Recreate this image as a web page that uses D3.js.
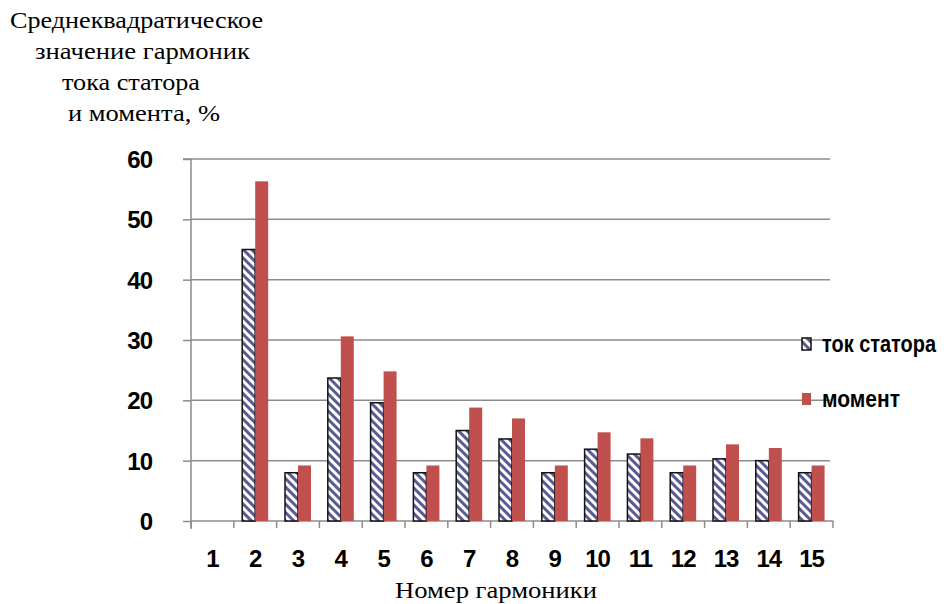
<!DOCTYPE html>
<html>
<head>
<meta charset="utf-8">
<script src="https://cdn.jsdelivr.net/npm/d3@7"></script>
<style>
  html, body { margin: 0; padding: 0; background: #fff; }
  svg { display: block; }
</style>
</head>
<body>
<svg id="chart" width="946" height="604"></svg>
<script>
// Harmonic numbers and RMS values (%) for stator current and torque
const harmonics = ["1", "2", "3", "4", "5", "6", "7", "8", "9", "10", "11", "12", "13", "14", "15"];
const statorCurrent = [0, 45.0, 8.0, 23.7, 19.6, 8.0, 15.0, 13.6, 8.0, 11.9, 11.1, 8.0, 10.3, 10.0, 8.0];
const torque = [0, 56.3, 9.2, 30.6, 24.8, 9.2, 18.8, 17.0, 9.2, 14.7, 13.7, 9.2, 12.7, 12.1, 9.2];
const yTicks = [0, 10, 20, 30, 40, 50, 60];
const seriesNames = ["ток статора", "момент"];
const yTitleLines = ["Среднеквадратическое", "значение гармоник", "тока статора", "и момента, %"];
const xTitle = "Номер гармоники";

const svg = d3.select("#chart");
const plot = { left: 191, right: 833, top: 159, bottom: 521 };

const x = d3.scaleBand().domain(harmonics).range([plot.left, plot.right]).padding(0);
const y = d3.scaleLinear().domain([0, 60]).range([plot.bottom, plot.top]);
const barW = 13;

const sans = "'Liberation Sans', Arial, sans-serif";
const serif = "'Liberation Serif', 'DejaVu Serif', 'Times New Roman', serif";

// diagonal hatch for the stator-current series
const defs = svg.append("defs");
defs.append("pattern")
  .attr("id", "hatch")
  .attr("patternUnits", "userSpaceOnUse")
  .attr("width", 6).attr("height", 6)
  .attr("patternTransform", "rotate(-45)")
  .call(p => {
    p.append("rect").attr("width", 6).attr("height", 6).attr("fill", "#fff");
    p.append("rect").attr("x", 0).attr("width", 3).attr("height", 6).attr("fill", "#5a5a96");
  });

const gray = "#8c8c8c";

// horizontal gridlines
svg.append("g").selectAll("line").data(yTicks.filter(d => d > 0)).join("line")
  .attr("x1", plot.left).attr("x2", plot.right - 3)
  .attr("y1", d => y(d)).attr("y2", d => y(d))
  .attr("stroke", gray).attr("stroke-width", 1.5);

// y axis
const yAxis = d3.axisLeft(y).tickValues(yTicks).tickSize(8).tickPadding(31).tickFormat(d3.format("d"));
const gy = svg.append("g").attr("transform", `translate(${plot.left},0)`).call(yAxis);
gy.select(".domain").attr("stroke", gray).attr("stroke-width", 1.5).attr("d", `M-8,${plot.top}H0V${plot.bottom + 8}`);
gy.selectAll(".tick line").attr("stroke", gray).attr("stroke-width", 1.5);
gy.selectAll(".tick text")
  .attr("fill", "#000")
  .style("font-family", sans)
  .style("font-size", "24px").style("font-weight", "bold")
  .style("letter-spacing", "-1px")
  .attr("dy", "0.36em");

// x axis with ticks at category boundaries
svg.append("line")
  .attr("x1", plot.left).attr("x2", plot.right)
  .attr("y1", plot.bottom).attr("y2", plot.bottom)
  .attr("stroke", gray).attr("stroke-width", 1.5);
const boundaries = harmonics.map(h => x(h)).concat([plot.right]);
svg.append("g").selectAll("line").data(boundaries).join("line")
  .attr("x1", d => d).attr("x2", d => d)
  .attr("y1", plot.bottom).attr("y2", plot.bottom + 7)
  .attr("stroke", gray).attr("stroke-width", 1.5);
svg.append("g").selectAll("text").data(harmonics).join("text")
  .attr("x", d => x(d) + x.bandwidth() / 2)
  .attr("y", 567)
  .attr("text-anchor", "middle")
  .style("font-family", sans)
  .style("font-size", "24px").style("font-weight", "bold")
  .style("letter-spacing", "-1px")
  .text(d => d);

// bars
const bars = svg.append("g");
bars.selectAll("rect.cur").data(harmonics).join("rect")
  .attr("class", "cur")
  .attr("x", d => x(d) + x.bandwidth() / 2 - barW)
  .attr("y", (d, i) => y(statorCurrent[i]))
  .attr("width", barW)
  .attr("height", (d, i) => y(0) - y(statorCurrent[i]))
  .attr("fill", "url(#hatch)")
  .attr("stroke", (d, i) => statorCurrent[i] > 0 ? "#111" : "none")
  .attr("stroke-width", 1.5);
bars.selectAll("rect.tq").data(harmonics).join("rect")
  .attr("class", "tq")
  .attr("x", d => x(d) + x.bandwidth() / 2)
  .attr("y", (d, i) => y(torque[i]))
  .attr("width", barW)
  .attr("height", (d, i) => y(0) - y(torque[i]))
  .attr("fill", "#c0504d");

// legend (labels drawn tall and narrow)
const legend = svg.append("g");
const legendItems = [
  { name: seriesNames[0], fill: "url(#hatch)", stroke: "#111", y: 344, len: 114 },
  { name: seriesNames[1], fill: "#c0504d", stroke: "none", y: 399, len: 78 }
];
legendItems.forEach(it => {
  legend.append("rect")
    .attr("x", 802).attr("y", it.y - 6).attr("width", 9).attr("height", 12)
    .attr("fill", it.fill).attr("stroke", it.stroke).attr("stroke-width", 1.5);
  legend.append("text")
    .attr("transform", `translate(822,${it.y + 8}) scale(1,1.2)`)
    .attr("textLength", it.len).attr("lengthAdjust", "spacingAndGlyphs")
    .style("font-family", sans)
    .style("font-size", "20px").style("font-weight", "bold")
    .text(it.name);
});

// axis titles
const titleX = [10, 35, 62, 68];
const titleY = [28, 59, 90, 121];
const titleLen = [253, 215, 138, 152];
svg.append("g").selectAll("text").data(yTitleLines).join("text")
  .attr("x", (d, i) => titleX[i]).attr("y", (d, i) => titleY[i])
  .attr("textLength", (d, i) => titleLen[i]).attr("lengthAdjust", "spacingAndGlyphs")
  .style("font-family", serif).style("font-size", "24px")
  .text(d => d);
svg.append("text")
  .attr("x", 395).attr("y", 598)
  .attr("textLength", 202).attr("lengthAdjust", "spacingAndGlyphs")
  .style("font-family", serif).style("font-size", "24px")
  .text(xTitle);
</script>
</body>
</html>
